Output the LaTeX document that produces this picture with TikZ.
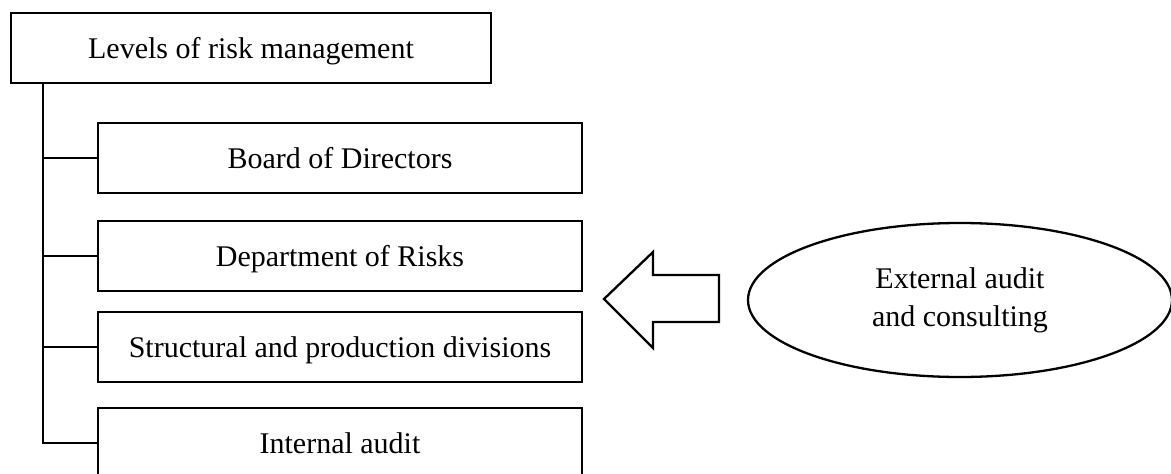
\documentclass[tikz,border=0pt]{standalone}
\usepackage{fontspec}
\setmainfont{Liberation Serif}
\usepackage{tikz}
\usetikzlibrary{shapes.geometric}

\begin{document}
\begin{tikzpicture}[x=1pt,y=1pt]
\tikzstyle{every node}+=[inner sep=0pt, font=\fontsize{30}{38}\selectfont]
\tikzstyle{level}=[draw, line width=2.3pt, minimum width=480, minimum height=70, text height=21pt, text depth=0pt]
\tikzstyle{unit}=[draw, line width=2.3pt, minimum width=484, minimum height=70, text height=21pt, text depth=0pt]
\tikzstyle{link}=[black, line width=2.3pt]
\useasboundingbox (0,0) rectangle (1171,-474);
\node [level] (levels) at (251,-48) {Levels of risk management};
\node [unit] (board) at (340,-158) {Board of Directors};
\node [unit] (dept) at (340,-256) {Department of Risks};
\node [unit] (divisions) at (340,-347) {Structural and production divisions};
\node [unit] (internal) at (340,-443) {Internal audit};
\coordinate (trunk) at (43,-83);
\draw [link] (trunk) |- (internal.west);
\draw [link] (trunk |- board.west) -- (board.west);
\draw [link] (trunk |- dept.west) -- (dept.west);
\draw [link] (trunk |- divisions.west) -- (divisions.west);
\node [draw, ellipse, line width=2.3pt, minimum width=424, minimum height=154, align=center] (external) at (960,-300) {External audit\\and consulting};
\coordinate (tip) at (604,-299);
\draw [link, line join=miter] (tip) -- ++(49,47) -- ++(0,-23) -- ++(66,0) -- ++(0,-47) -- ++(-66,0) -- ++(0,-26) -- cycle;
\end{tikzpicture}
\end{document}
